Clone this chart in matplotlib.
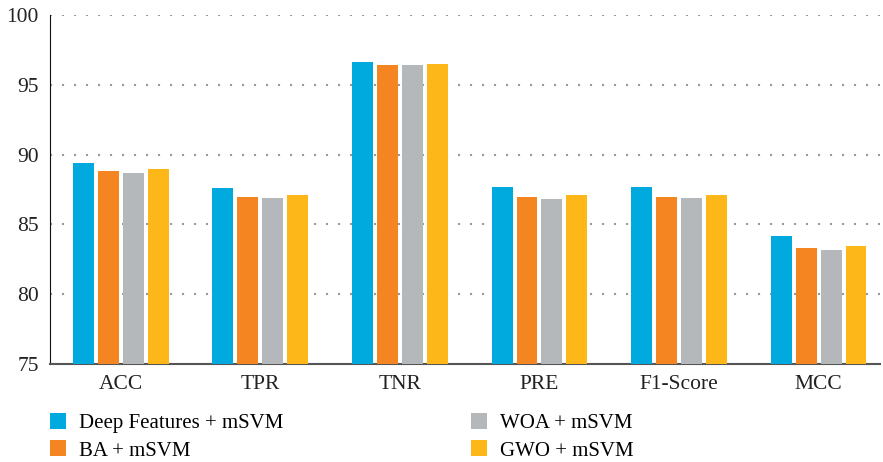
import matplotlib.pyplot as plt
import numpy as np

# datos
metricas = ['ACC', 'TPR', 'TNR', 'PRE', 'F1-Score', 'MCC']
deep = [89.37, 87.58, 96.6, 87.65, 87.65, 84.2]
ba = [88.8, 86.93, 96.4, 86.93, 86.93, 83.34]
woa = [88.65, 86.86, 96.4, 86.79, 86.86, 83.2]
gwo = [88.94, 87.08, 96.47, 87.08, 87.08, 83.49]

series = ['Deep Features + mSVM', 'BA + mSVM', 'WOA + mSVM', 'GWO + mSVM']
colores = ['#00A9DE', '#F48521', '#B5B8BA', '#FDB719']

plt.rcParams['font.family'] = ['Liberation Serif', 'DejaVu Serif']

fig = plt.figure(figsize=(8.83, 4.62), dpi=100)
ax = fig.add_axes([0.0566, 0.212, 0.94, 0.7555])

x = np.arange(len(metricas))
paso = 0.1786
ancho = 0.15
valores = [deep, ba, woa, gwo]
for i, (v, c, s) in enumerate(zip(valores, colores, series)):
    ax.bar(x + (i - 1.5) * paso, v, ancho, color=c, label=s, zorder=3)

ax.set_ylim(75, 100)
ax.set_xlim(-0.507, 5.44)
ax.set_yticks([75, 80, 85, 90, 95, 100])
ax.set_xticks(x)
ax.set_xticklabels(metricas)
ax.tick_params(axis='both', length=0, labelsize=15.5, colors='#222222')
ax.tick_params(axis='x', pad=8)
ax.tick_params(axis='y', pad=8)

ax.grid(axis='y', color='#999999', linestyle=(0, (1, 4.76)), linewidth=1.5, zorder=0)

ax.spines['top'].set_visible(False)
ax.spines['right'].set_visible(False)
ax.spines['left'].set_color('#111111')
ax.spines['bottom'].set_color('#555555')
ax.spines['bottom'].set_linewidth(1.5)

fig.legend(loc='lower left', bbox_to_anchor=(50 / 883, 1.5 / 462), ncol=2, frameon=False,
           fontsize=15, handlelength=0.77, handleheight=0.77, handletextpad=0.62,
           columnspacing=9.0, labelspacing=0.35, borderpad=0, borderaxespad=0)

plt.savefig('out.png', dpi=100)
